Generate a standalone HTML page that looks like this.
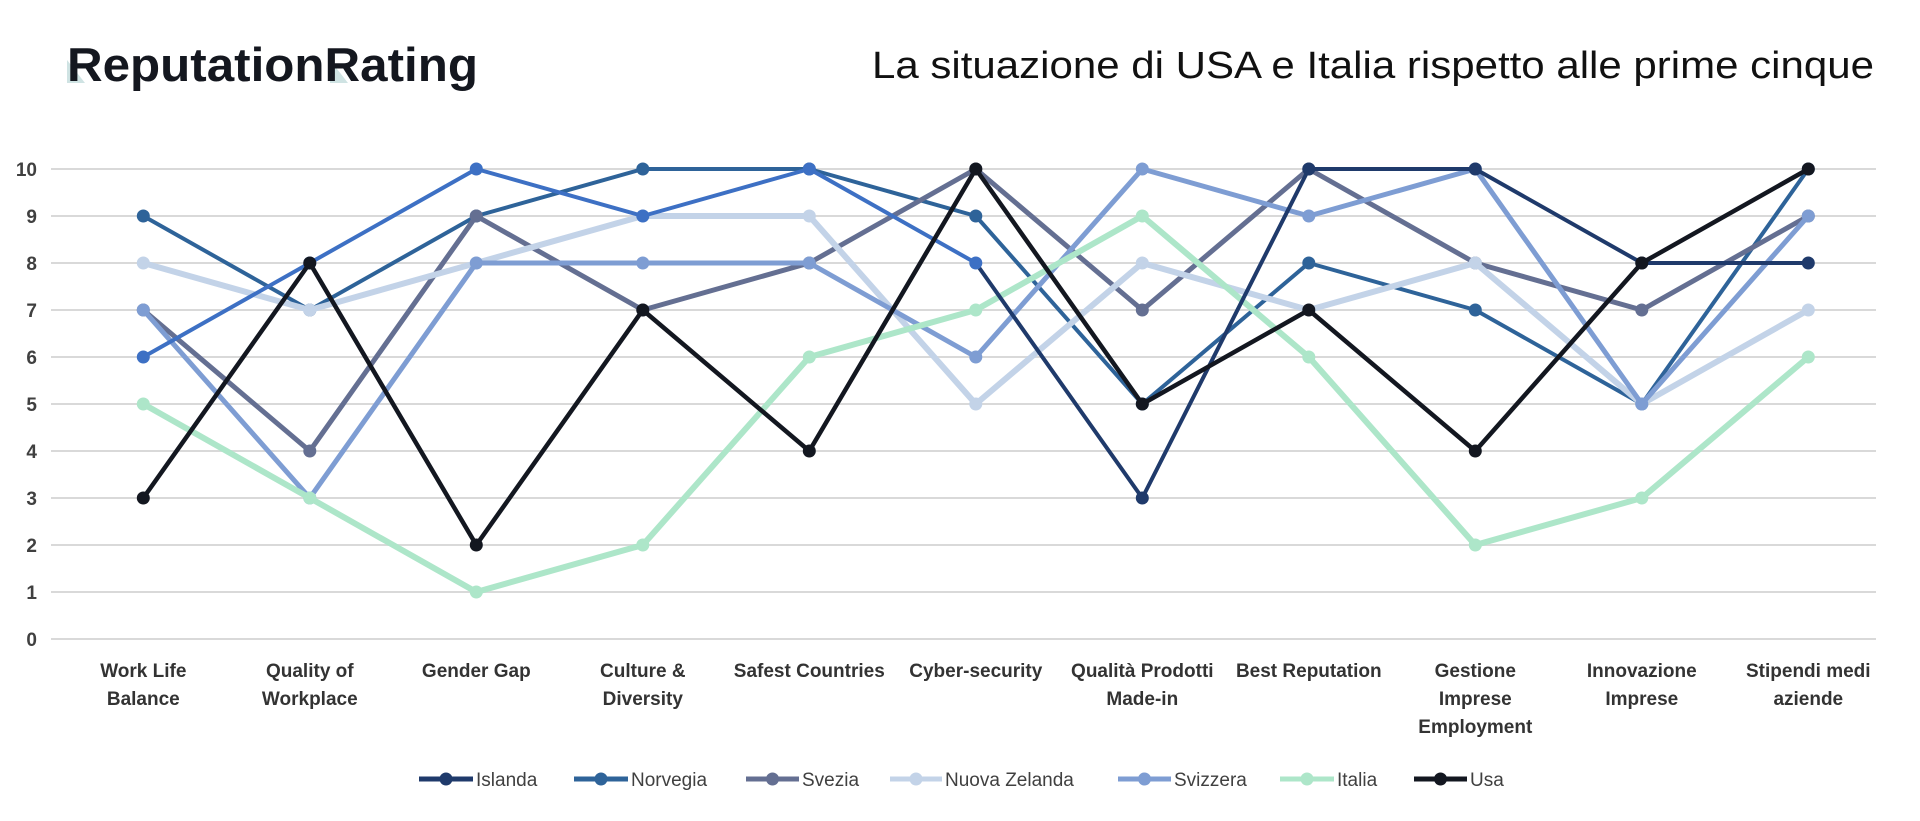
<!DOCTYPE html>
<html><head><meta charset="utf-8"><style>
html,body{margin:0;padding:0;background:#fff;}
svg{display:block;}
</style></head><body>
<svg id="c" width="1920" height="821" viewBox="0 0 1920 821" xmlns="http://www.w3.org/2000/svg" font-family="Liberation Sans, sans-serif">
<polygon points="67,60 67,83 85,83" fill="#cfe3e3"/>
<polygon points="330,60 330,83 348,83" fill="#cfe3e3"/>
<text x="67" y="81" font-size="47" font-weight="bold" fill="#14171f" textLength="411" lengthAdjust="spacingAndGlyphs">ReputationRating</text>
<text x="872" y="78" font-size="38" fill="#111" textLength="1002" lengthAdjust="spacingAndGlyphs">La situazione di USA e Italia rispetto alle prime cinque</text>
<g id="grid"></g>
<g id="series"></g>
<g id="legend"></g>
</svg>
<script>
const NS="http://www.w3.org/2000/svg";
function el(t,a,txt){const e=document.createElementNS(NS,t);for(const k in a)e.setAttribute(k,a[k]);if(txt!==undefined)e.textContent=txt;return e;}
const X=i=>143.3+i*166.5, Y=v=>639-v*47;
const grid=document.getElementById('grid');
for(let v=0;v<=10;v++){
 grid.appendChild(el('line',{x1:51,x2:1876,y1:Y(v),y2:Y(v),stroke:'#d9d9d9','stroke-width':2}));
 grid.appendChild(el('text',{x:37,y:Y(v)+7,'font-size':19,'font-weight':'bold',fill:'#404040','text-anchor':'end'},String(v)));
}
const cats=[["Work Life","Balance"],["Quality of","Workplace"],["Gender Gap"],["Culture &","Diversity"],["Safest Countries"],["Cyber-security"],["Qualità Prodotti","Made-in"],["Best Reputation"],["Gestione","Imprese","Employment"],["Innovazione","Imprese"],["Stipendi medi","aziende"]];
cats.forEach((c,i)=>c.forEach((t,j)=>grid.appendChild(el('text',{x:X(i),y:677+j*28,'font-size':19,'font-weight':'bold',fill:'#333','text-anchor':'middle'},t))));
const S=[
 ["Norvegia","#2e6399",[9,7,9,10,10,9,5,8,7,5,10],4],
 ["Svezia","#6470928",[7,4,9,7,8,10,7,10,8,7,9],5],
 ["Nuova Zelanda","#c3d3e8",[8,7,8,9,9,5,8,7,8,5,7],6],
 ["Svizzera","#7e9dd3",[7,3,8,8,8,6,10,9,10,5,9],5],
 ["Italia","#ade6c9",[5,3,1,2,6,7,9,6,2,3,6],6],
 ["Islanda","#1f3a6b",[6,8,10,9,10,8,3,10,10,8,8],4],
 ["Usa","#131720",[3,8,2,7,4,10,5,7,4,8,10],4.5]
];
S[1][1]="#646f92";
const g=document.getElementById('series');
S.forEach(s=>{
 const [n,col,d,w]=s;
 if(n==="Islanda"){
  for(let i=0;i<10;i++){
   const c=i<5?"#3d70c4":"#1f3a6b";
   g.appendChild(el('line',{x1:X(i),y1:Y(d[i]),x2:X(i+1),y2:Y(d[i+1]),stroke:c,'stroke-width':w,'stroke-linecap':'round'}));
  }
  d.forEach((v,i)=>g.appendChild(el('circle',{cx:X(i),cy:Y(v),r:6.5,fill:i<6?"#3d70c4":"#1f3a6b"})));
  return;
 }
 g.appendChild(el('polyline',{points:d.map((v,i)=>X(i)+','+Y(v)).join(' '),fill:'none',stroke:col,'stroke-width':w,'stroke-linejoin':'round'}));
 d.forEach((v,i)=>g.appendChild(el('circle',{cx:X(i),cy:Y(v),r:6.5,fill:col})));
});
const L=[["Islanda","#1f3a6b",419,476],["Norvegia","#2e6399",574,631],["Svezia","#646f92",746,802],["Nuova Zelanda","#c3d3e8",890,945],["Svizzera","#7e9dd3",1118,1174],["Italia","#ade6c9",1280,1337],["Usa","#131720",1414,1470]];
const lg=document.getElementById('legend');
L.forEach(([n,c,x1,tx])=>{
 lg.appendChild(el('line',{x1:x1,x2:tx-3,y1:779,y2:779,stroke:c,'stroke-width':5}));
 lg.appendChild(el('circle',{cx:(x1+tx-3)/2,cy:779,r:6.5,fill:c}));
 lg.appendChild(el('text',{x:tx,y:786,'font-size':19,fill:'#404040'},n));
});
</script>
</body></html>
